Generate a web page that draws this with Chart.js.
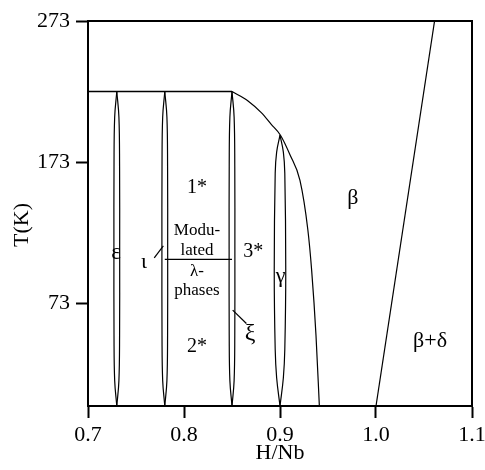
<!DOCTYPE html>
<html>
<head>
<meta charset="utf-8">
<script src="https://cdn.jsdelivr.net/npm/chart.js@4"></script>
<style>
  html, body { margin: 0; padding: 0; background: #fff; }
  #wrap { width: 485px; height: 470px; }
</style>
</head>
<body>
<div id="wrap"><canvas id="phaseChart"></canvas></div>
<script>
// axis ticks
const xTickValues = [0.7, 0.8, 0.9, 1.0, 1.1];
const yTickValues = [73, 173, 273];

// upper limit of the ordered phases
const phaseTopLine = [[0.7, 223], [0.85, 223]];

// narrow two-phase lenses (centre composition, temperature profile, half width)
const lensCentres = [0.73, 0.78, 0.85];
const lensTemps = [223, 205, 170, 111, 50, 18, 0];
const lensHalfWidth = [0, 0.0022, 0.0029, 0.003, 0.0029, 0.0022, 0];

// gamma lens under the dome
const gammaCentre = 0.9;
const gammaTemps = [192, 180, 165, 96, 40, 20, 0];
const gammaHalfWidth = [0, 0.0035, 0.005, 0.006, 0.005, 0.0035, 0];

// dome boundary to beta
const domeX = [0.85, 0.8667, 0.8805, 0.8909, 0.9005, 0.9105, 0.9208, 0.929, 0.933, 0.9375, 0.941];
const domeT = [223, 216.3, 208, 199.7, 192, 178, 160, 125, 96, 50, 0];

// beta / beta+delta boundary
const deltaX = [1.0, 1.061];
const deltaT = [0, 273];

// modulated / lambda split and pointer lines
const modulatedLine = [[0.78, 104], [0.85, 104]];
const iotaPointer = [[0.769, 105], [0.7785, 113.5]];
const xiPointer = [[0.8507, 68], [0.865, 58.5]];

// region labels: text, H/Nb, T (baseline), font size
const labels = [
  ["ε", 0.7292, 104, 23],
  ["ι", 0.7583, 98, 22],
  ["1*", 0.8135, 150.7, 20],
  ["Modu-", 0.8135, 121.2, 17],
  ["lated", 0.8135, 107, 17],
  ["λ-", 0.8135, 92, 17],
  ["phases", 0.8135, 78.6, 17],
  ["2*", 0.8135, 38.3, 20],
  ["3*", 0.8722, 105.7, 20],
  ["γ", 0.9007, 88, 22],
  ["ξ", 0.8688, 46.8, 24],
  ["β", 0.976, 143.5, 22],
  ["β+δ", 1.0563, 41.7, 22]
];

const FONT = '"Liberation Serif", "Times New Roman", serif';

function pts(pairs) {
  return pairs.map(p => ({ x: p[0], y: p[1] }));
}
function line(data, width, tension, mode) {
  return {
    data: data,
    showLine: true,
    borderColor: "#000",
    borderWidth: width,
    pointRadius: 0,
    tension: tension || 0,
    cubicInterpolationMode: mode || "default",
    fill: false
  };
}

const datasets = [];
datasets.push(line(pts(phaseTopLine), 1.5));
lensCentres.forEach(c => {
  datasets.push(line(lensTemps.map((t, i) => ({ x: c - lensHalfWidth[i], y: t })), 1.2, 0.4));
  datasets.push(line(lensTemps.map((t, i) => ({ x: c + lensHalfWidth[i], y: t })), 1.2, 0.4));
});
datasets.push(line(gammaTemps.map((t, i) => ({ x: gammaCentre - gammaHalfWidth[i], y: t })), 1.2, 0.4));
datasets.push(line(gammaTemps.map((t, i) => ({ x: gammaCentre + gammaHalfWidth[i], y: t })), 1.2, 0.4));
datasets.push(line(domeX.map((x, i) => ({ x: x, y: domeT[i] })), 1.2, 0.4, "monotone"));
datasets.push(line(deltaX.map((x, i) => ({ x: x, y: deltaT[i] })), 1.2));
datasets.push(line(pts(modulatedLine), 1.2));
datasets.push(line(pts(iotaPointer), 1.2));
datasets.push(line(pts(xiPointer), 1.2));

const overlay = {
  id: "overlay",
  afterDatasetsDraw(chart) {
    const { ctx, chartArea: a, scales } = chart;
    ctx.save();
    ctx.strokeStyle = "#000";
    ctx.lineWidth = 2;
    ctx.strokeRect(a.left, a.top, a.right - a.left, a.bottom - a.top);
    ctx.fillStyle = "#000";
    ctx.textAlign = "center";
    ctx.textBaseline = "alphabetic";
    labels.forEach(l => {
      ctx.font = l[3] + "px " + FONT;
      ctx.fillText(l[0], scales.x.getPixelForValue(l[1]), scales.y.getPixelForValue(l[2]));
    });
    // y axis title, sits a little below the middle of the axis
    ctx.translate(22, 225);
    ctx.rotate(-Math.PI / 2);
    ctx.textBaseline = "middle";
    ctx.font = "22px " + FONT;
    ctx.fillText("T(K)", 0, 0);
    ctx.restore();
  }
};

new Chart(document.getElementById("phaseChart"), {
  type: "scatter",
  data: { datasets: datasets },
  options: {
    responsive: true,
    maintainAspectRatio: false,
    animation: false,
    layout: { padding: { top: 21, right: 13, left: 0, bottom: 0 } },
    plugins: { legend: { display: false }, tooltip: { enabled: false } },
    scales: {
      x: {
        type: "linear",
        min: 0.7,
        max: 1.1,
        afterBuildTicks: s => { s.ticks = xTickValues.map(v => ({ value: v })); },
        afterFit: s => { s.height = 64; s.paddingLeft = 0; s.paddingRight = 0; },
        ticks: {
          color: "#000",
          padding: 4,
          maxRotation: 0,
          font: { family: FONT, size: 22 },
          callback: v => v.toFixed(1)
        },
        grid: { drawOnChartArea: false, drawTicks: true, tickLength: 12, tickWidth: 2, tickColor: "#000" },
        border: { display: true, color: "#000", width: 2 },
        title: { display: true, text: "H/Nb", color: "#000", font: { family: FONT, size: 22 }, padding: { top: 0, bottom: 4 } }
      },
      y: {
        type: "linear",
        min: 0,
        max: 273,
        afterBuildTicks: s => { s.ticks = yTickValues.map(v => ({ value: v })); },
        afterFit: s => { s.width = 88; s.paddingTop = 0; s.paddingBottom = 0; },
        ticks: {
          color: "#000",
          padding: 6,
          font: { family: FONT, size: 22 },
          callback: v => String(v)
        },
        grid: { drawOnChartArea: false, drawTicks: true, tickLength: 12, tickWidth: 2, tickColor: "#000" },
        border: { display: true, color: "#000", width: 2 },
        title: { display: false }
      }
    }
  },
  plugins: [overlay]
});
</script>
</body>
</html>
